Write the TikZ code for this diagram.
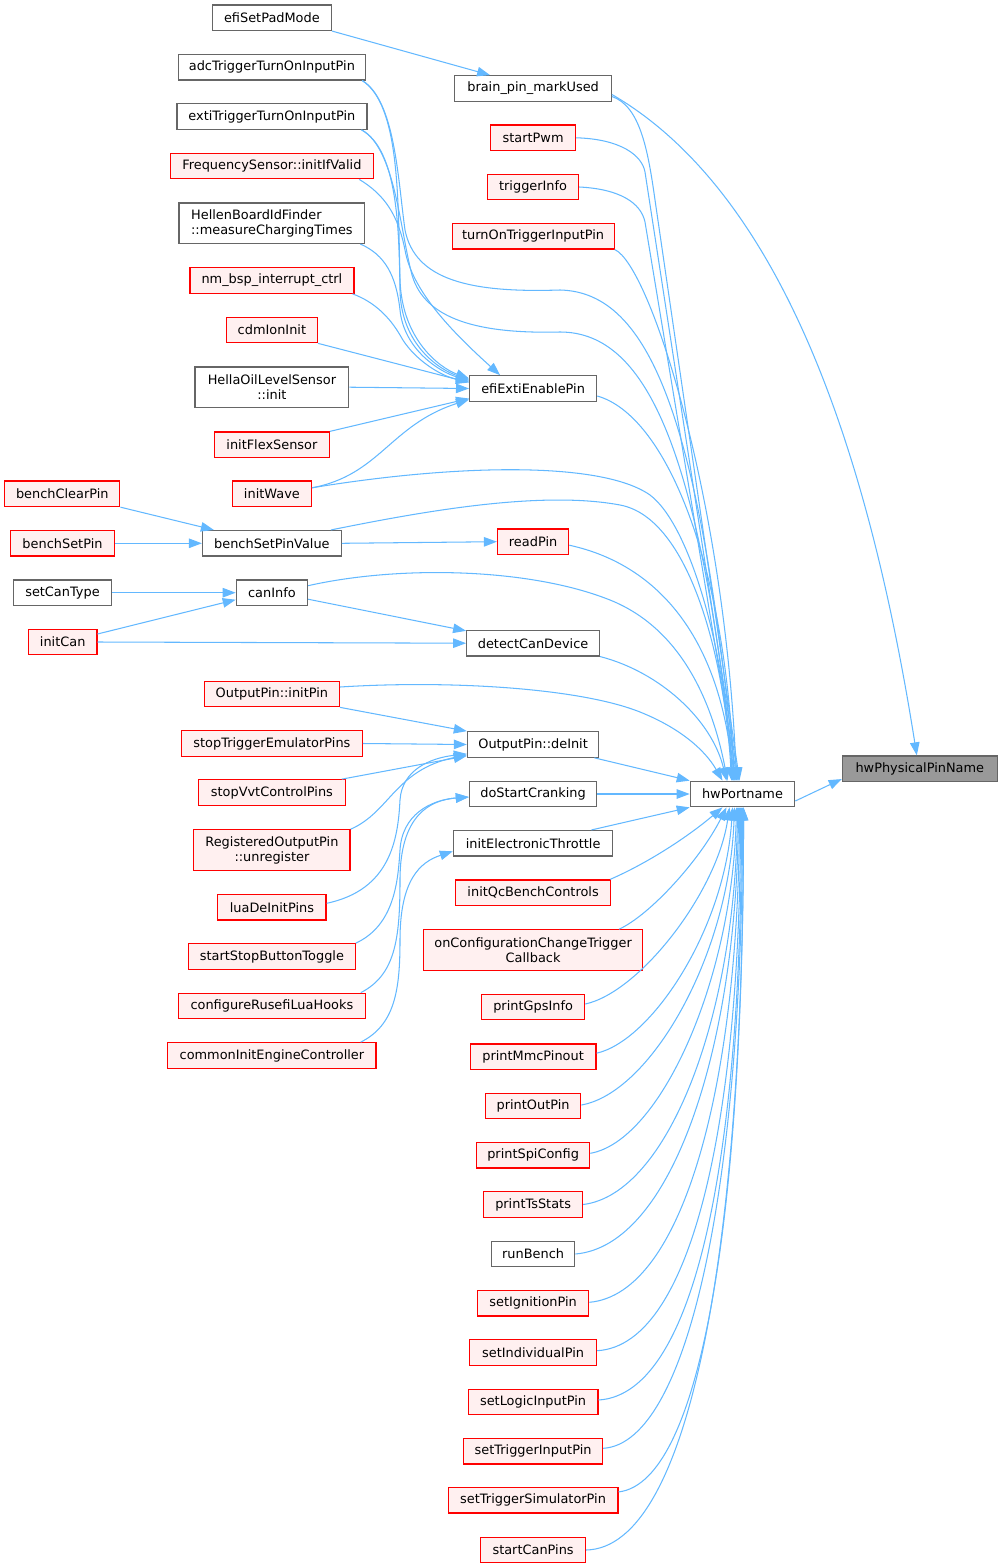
\documentclass[tikz,border=0pt]{standalone}
\usepackage{fontspec}
\setmainfont{DejaVu Sans}
\usetikzlibrary{arrows.meta}
\definecolor{edgeblue}{HTML}{63B8FF}
\definecolor{redfill}{HTML}{FFF0F0}
\definecolor{grayborder}{HTML}{666666}
\definecolor{darkfill}{HTML}{999999}
\begin{document}
\begin{tikzpicture}[x=1pt,y=-1pt,
  gbox/.style={draw=grayborder, fill=white, line width=1.2pt, rectangle, minimum height=25.5pt,
    inner xsep=2pt, inner ysep=0pt, font=\fontsize{12.9}{15}\selectfont, align=center},
  rbox/.style={gbox, draw=red, fill=redfill},
  hlbox/.style={gbox, fill=darkfill},
  twoline/.style={minimum height=40.4pt},
  callarrow/.style={draw=edgeblue, line width=1.05pt, -{Triangle[length=13pt,width=9.5pt]}}]
\useasboundingbox (0,0) rectangle (1003,1568);

% ---------- column 1 ----------
\node[rbox, minimum width=115pt] (benchClearPin) at (62.3,493.8) {benchClearPin};
\node[rbox, minimum width=103.6pt] (benchSetPin) at (62.5,543.3) {benchSetPin};
\node[gbox, minimum width=97.3pt] (setCanType) at (62.5,592.7) {setCanType};
\node[rbox, minimum width=68.4pt] (initCan) at (62.7,642) {initCan};

% ---------- column 2 ----------
\node[gbox, minimum width=119pt] (efiSetPadMode) at (271.9,17.7) {efiSetPadMode};
\node[gbox, minimum width=187.4pt] (adc) at (271.9,67.2) {adcTriggerTurnOnInputPin};
\node[gbox, minimum width=190pt] (exti) at (271.9,116.5) {extiTriggerTurnOnInputPin};
\node[rbox, minimum width=203.4pt] (freq) at (271.9,166) {FrequencySensor::initIfValid};
\node[gbox, twoline, minimum width=185.7pt, align=left] (hellen) at (271.9,223.2) {HellenBoardIdFinder\\::measureChargingTimes};
\node[rbox, minimum width=164pt] (nmbsp) at (271.9,280.5) {nm\_bsp\_interrupt\_ctrl};
\node[rbox, minimum width=91pt] (cdm) at (271.9,330) {cdmIonInit};
\node[gbox, twoline, minimum width=153.8pt] (hellaoil) at (271.9,387.2) {HellaOilLevelSensor\\::init};
\node[rbox, minimum width=115pt] (initFlex) at (271.9,444.7) {initFlexSensor};
\node[rbox, minimum width=79pt] (initWave) at (271.9,493.8) {initWave};
\node[gbox, minimum width=138.8pt] (bsv) at (271.9,543.3) {benchSetPinValue};
\node[gbox, minimum width=71.2pt] (canInfo) at (271.9,592.7) {canInfo};
\node[rbox, minimum width=135pt] (initPin) at (271.9,694) {OutputPin::initPin};
\node[rbox, minimum width=180.6pt] (stopTrigEm) at (271.9,743.5) {stopTriggerEmulatorPins};
\node[rbox, minimum width=146.6pt] (stopVvt) at (271.9,792.5) {stopVvtControlPins};
\node[rbox, twoline, minimum width=156.3pt] (regout) at (271.9,850) {RegisteredOutputPin\\::unregister};
\node[rbox, minimum width=108.3pt] (luaDeInit) at (271.9,907.3) {luaDeInitPins};
\node[rbox, minimum width=166.6pt] (startStop) at (271.9,956.5) {startStopButtonToggle};
\node[rbox, minimum width=186.6pt] (configure) at (271.9,1006) {configureRusefiLuaHooks};
\node[rbox, minimum width=208.3pt] (commonInit) at (271.9,1055.5) {commonInitEngineController};

% ---------- column 3 ----------
\node[gbox, minimum width=156.5pt] (brain) at (533.1,88.5) {brain\_pin\_markUsed};
\node[rbox, minimum width=85pt] (startPwm) at (533.1,137.8) {startPwm};
\node[rbox, minimum width=91pt] (triggerInfo) at (533.1,187) {triggerInfo};
\node[rbox, minimum width=162pt] (turnOn) at (533.1,236.2) {turnOnTriggerInputPin};
\node[gbox, minimum width=127pt] (efiExti) at (533.1,388.5) {efiExtiEnablePin};
\node[rbox, minimum width=71.2pt] (readPin) at (533.1,541.7) {readPin};
\node[gbox, minimum width=132.8pt] (detectCan) at (533.1,643.2) {detectCanDevice};
\node[gbox, minimum width=131.4pt] (deInit) at (533.1,744.5) {OutputPin::deInit};
\node[gbox, minimum width=127.4pt] (doStart) at (533.1,794) {doStartCranking};
\node[gbox, minimum width=159.4pt] (initET) at (533.1,843.3) {initElectronicThrottle};
\node[rbox, minimum width=155pt] (initQc) at (533.1,892.7) {initQcBenchControls};
\node[rbox, twoline, minimum width=218.7pt] (onConfig) at (533.1,950) {onConfigurationChangeTrigger\\Callback};
\node[rbox, minimum width=103.3pt] (printGps) at (533.1,1007) {printGpsInfo};
\node[rbox, minimum width=125.7pt] (printMmc) at (533.1,1056.7) {printMmcPinout};
\node[rbox, minimum width=95.3pt] (printOut) at (533.1,1106) {printOutPin};
\node[rbox, minimum width=113.3pt] (printSpi) at (533.1,1155.3) {printSpiConfig};
\node[rbox, minimum width=99pt] (printTs) at (533.1,1204.5) {printTsStats};
\node[gbox, minimum width=83.3pt] (runBench) at (533.1,1254) {runBench};
\node[rbox, minimum width=111.3pt] (setIgn) at (533.1,1303.3) {setIgnitionPin};
\node[rbox, minimum width=127pt] (setIndiv) at (533.1,1352.5) {setIndividualPin};
\node[rbox, minimum width=129.6pt] (setLogic) at (533.1,1402) {setLogicInputPin};
\node[rbox, minimum width=139pt] (setTrigIn) at (533.1,1451.3) {setTriggerInputPin};
\node[rbox, minimum width=169.6pt] (setTrigSim) at (533.1,1500.3) {setTriggerSimulatorPin};
\node[rbox, minimum width=104.7pt] (startCan) at (533.1,1550) {startCanPins};

% ---------- columns 4 and 5 ----------
\node[gbox, minimum width=104.4pt] (hw) at (742.5,794) {hwPortname};
\node[hlbox, minimum width=155pt] (hwPhys) at (919.8,768.7) {hwPhysicalPinName};

% ---------- edges into brain_pin_markUsed / hwPhysicalPinName ----------
\draw[callarrow] (efiSetPadMode.south east) -- ([xshift=-43pt]brain.north);
\draw[callarrow] ([yshift=-6pt]brain.east) .. controls (785,195) and (870,460) .. ([xshift=-3pt]hwPhys.north);
\draw[callarrow] ([yshift=-7pt]hw.east) -- ([yshift=3pt]hwPhys.south west);

% ---------- edges into efiExtiEnablePin ----------
\draw[callarrow] ([xshift=-4pt]adc.south east) .. controls (400,105) and (398,200) .. (400,280) .. controls (402,340) and (440,368) .. ([yshift=10pt]efiExti.west);
\draw[callarrow] ([xshift=-6pt]exti.south east) .. controls (398,150) and (399,230) .. (400,290) .. controls (401,345) and (440,370) .. ([yshift=9pt]efiExti.west);
\draw[callarrow] ([xshift=-15pt]freq.south east) .. controls (385,195) and (398,215) .. (405,250) .. controls (412,290) and (450,330) .. ([xshift=-33pt]efiExti.north);
\draw[callarrow] ([xshift=-5pt]hellen.south east) .. controls (385,255) and (396,275) .. (400,310) .. controls (404,350) and (440,372) .. ([yshift=8pt]efiExti.west);
\draw[callarrow] ([xshift=-2pt]nmbsp.south east) .. controls (375,302) and (390,318) .. (400,335) .. controls (412,358) and (440,376) .. ([yshift=7pt]efiExti.west);
\draw[callarrow] (cdm.south east) -- ([yshift=6pt]efiExti.west);
\draw[callarrow] (hellaoil.east) -- (efiExti.west);
\draw[callarrow] (initFlex.north east) -- ([yshift=-10pt]efiExti.west);
\draw[callarrow] ([yshift=6pt]initWave.east) .. controls (380,475) and (390,425) .. ([yshift=-11pt]efiExti.west);

% ---------- bench / can ----------
\draw[callarrow] (benchClearPin.south east) -- ([xshift=-58pt]bsv.north);
\draw[callarrow] (benchSetPin.east) -- (bsv.west);
\draw[callarrow] (bsv.east) -- (readPin.west);
\draw[callarrow] (setCanType.east) -- (canInfo.west);
\draw[callarrow] ([yshift=8pt]initCan.east) -- ([yshift=-7pt]canInfo.west);
\draw[callarrow] (initCan.east) -- (detectCan.west);
\draw[callarrow] ([yshift=-6.5pt]canInfo.east) -- ([yshift=-1pt]detectCan.north west);

% ---------- OutputPin::deInit, doStartCranking, initElectronicThrottle ----------
\draw[callarrow] (initPin.south east) -- (deInit.north west);
\draw[callarrow] (stopTrigEm.east) -- (deInit.west);
\draw[callarrow] ([xshift=-4pt]stopVvt.north east) -- ([yshift=2pt]deInit.south west);
\draw[callarrow] (regout.north east) .. controls (390,812) and (395,770) .. ([yshift=3pt]deInit.south west);
\draw[callarrow] ([yshift=4pt]luaDeInit.east) .. controls (390,890) and (398,840) .. (400,800) .. controls (402,770) and (430,758) .. ([yshift=4pt]deInit.south west);
\draw[callarrow] (startStop.north east) .. controls (395,925) and (398,880) .. (400,850) .. controls (402,815) and (430,800) .. ([yshift=-3pt]doStart.west);
\draw[callarrow] ([xshift=-5pt]configure.north east) .. controls (395,975) and (400,940) .. (400,880) .. controls (400,815) and (430,800) .. ([yshift=-3pt]doStart.west);
\draw[callarrow] ([xshift=-16pt]commonInit.north east) .. controls (395,1025) and (400,990) .. (400,940) .. controls (400,880) and (420,862) .. ([yshift=-8pt]initET.west);

% ---------- edges into hwPortname from above ----------
\draw[callarrow] ([yshift=-8pt]brain.east) .. controls (640,106) and (648,150) .. (655,200) -- ([xshift=-3pt]hw.north);
\draw[callarrow] (startPwm.east) .. controls (620,139) and (642,155) .. (645,172) -- ([xshift=-4pt]hw.north);
\draw[callarrow] (triggerInfo.east) .. controls (620,189) and (641,203) .. (645,222) -- ([xshift=-5pt]hw.north);
\draw[callarrow] (turnOn.south east) .. controls (650,265) and (725,500) .. ([xshift=-6pt]hw.north);
\draw[callarrow] ([xshift=-4pt]adc.south east) .. controls (395,100) and (398,180) .. (405,230) .. controls (415,280) and (470,293) .. (560,290) .. controls (650,292) and (700,420) .. ([xshift=-7pt]hw.north);
\draw[callarrow] ([xshift=-6pt]exti.south east) .. controls (395,148) and (400,230) .. (412,275) .. controls (425,320) and (480,334) .. (560,332) .. controls (650,332) and (700,460) .. ([xshift=-8pt]hw.north);
\draw[callarrow] ([yshift=-7.5pt]efiExti.east) .. controls (665,415) and (725,560) .. ([xshift=-8.5pt]hw.north);
\draw[callarrow] ([yshift=6pt]initWave.east) .. controls (450,465) and (600,460) .. (650,495) .. controls (690,525) and (725,650) .. ([xshift=-10pt]hw.north);
\draw[callarrow] ([xshift=-11pt]bsv.north east) .. controls (420,512) and (540,490) .. (620,505) .. controls (690,518) and (725,660) .. ([xshift=-11pt]hw.north);
\draw[callarrow] ([yshift=-3.5pt]readPin.east) .. controls (660,565) and (720,640) .. ([xshift=-9pt]hw.north);
\draw[callarrow] ([yshift=7pt]canInfo.east) .. controls (400,565) and (530,568) .. (610,600) .. controls (680,628) and (712,700) .. ([xshift=-15pt]hw.north);
\draw[callarrow] (detectCan.south east) .. controls (660,672) and (712,720) .. ([xshift=-16pt]hw.north);
\draw[callarrow] ([yshift=7pt]initPin.east) .. controls (450,680) and (580,688) .. (640,712) .. controls (680,728) and (705,750) .. ([xshift=-20pt]hw.north);

% ---------- edges into hwPortname from the left ----------
\draw[callarrow] ([xshift=-5pt]deInit.south east) -- (hw.north west);
\draw[callarrow] (doStart.east) -- (hw.west);
\draw[callarrow] ([xshift=-22pt]initET.north east) -- (hw.south west);

% ---------- edges into hwPortname from below ----------
\draw[callarrow] ([xshift=-1pt]initQc.north east) .. controls (650,862) and (690,835) .. ([xshift=-20pt]hw.south);
\draw[callarrow] ([xshift=-24pt]onConfig.north east) .. controls (650,915) and (700,860) .. ([xshift=-16pt]hw.south);
\draw[callarrow] ([yshift=3pt]printGps.east) .. controls (640,992) and (717,892) .. ([xshift=-13pt]hw.south);
\draw[callarrow] ([yshift=3.5pt]printMmc.east) .. controls (651,1041) and (725,930) .. ([xshift=-10pt]hw.south);
\draw[callarrow] ([yshift=1pt]printOut.east) .. controls (650,1093) and (729,957) .. ([xshift=-8pt]hw.south);
\draw[callarrow] ([yshift=2pt]printSpi.east) .. controls (660,1141) and (732,982) .. ([xshift=-6pt]hw.south);
\draw[callarrow] (printTs.east) .. controls (668,1194) and (735,1017) .. ([xshift=-5pt]hw.south);
\draw[callarrow] (runBench.east) .. controls (672,1246) and (736.5,1047) .. ([xshift=-4pt]hw.south);
\draw[callarrow] ([yshift=1pt]setIgn.east) .. controls (685,1294) and (738.5,1077) .. ([xshift=-3pt]hw.south);
\draw[callarrow] ([yshift=1.8pt]setIndiv.east) .. controls (695,1345) and (740.5,1107) .. ([xshift=-2pt]hw.south);
\draw[callarrow] ([yshift=2pt]setLogic.east) .. controls (700,1394) and (741.5,1137) .. ([xshift=-1pt]hw.south);
\draw[callarrow] ([yshift=3pt]setTrigIn.east) .. controls (690,1443) and (742.5,1177) .. (hw.south);
\draw[callarrow] ([yshift=-5pt]setTrigSim.north east) .. controls (703,1482) and (743.5,1207) .. ([xshift=1pt]hw.south);
\draw[callarrow] (startCan.east) .. controls (690,1548) and (743.5,1250) .. ([xshift=1pt]hw.south);
\end{tikzpicture}
\end{document}
